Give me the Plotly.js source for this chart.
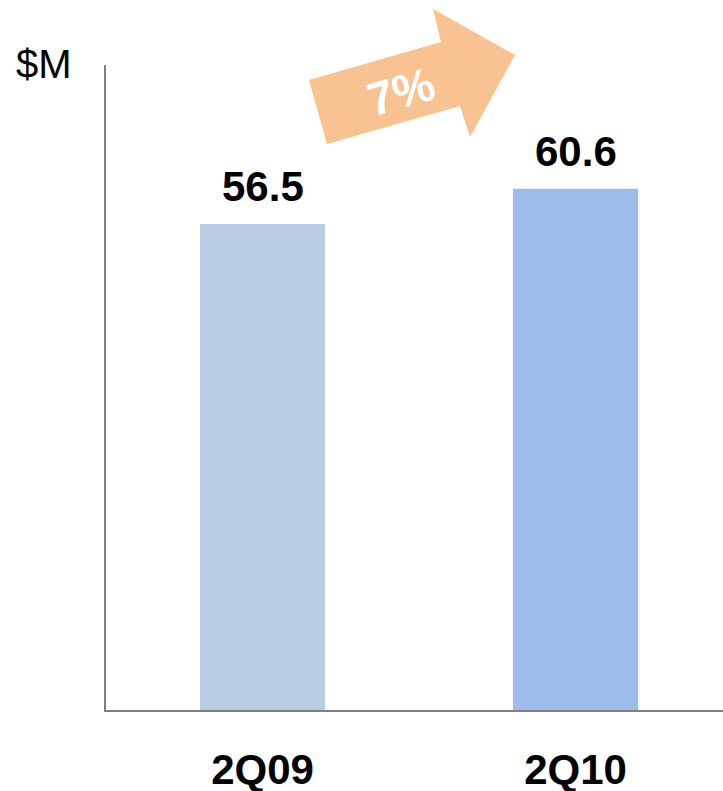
<!DOCTYPE html>
<html>
<head>
<meta charset="utf-8">
<script src="https://cdn.plot.ly/plotly-3.0.1.min.js"></script>
<style>html,body{margin:0;padding:0;background:#fff;}#chart{width:723px;height:791px;}</style>
</head>
<body>
<div id="chart"></div>
<script>
// Data
var categories = ["2Q09", "2Q10"];
var values = [56.5, 60.6];
var valueLabels = ["56.5", "60.6"];
var growthLabel = "7%";
var unitLabel = "$M";

var W = 723, H = 791;
var M = {l: 106, r: 0, t: 65, b: 81};
var PW = W - M.l - M.r, PH = H - M.t - M.b;
function px(x){ return (x - M.l) / PW; }
function py(y){ return (M.t + PH - y) / PH; }

var FONT = "Liberation Sans, Arial, sans-serif";

var arrowPts = [[309,80],[441,42],[433,9],[515,55],[470,137],[460,106],[327,144]];
var path = arrowPts.map(function(p,i){ return (i===0?"M":"L") + px(p[0]).toFixed(4) + "," + py(p[1]).toFixed(4); }).join(" ") + " Z";

var trace = {
  type: "bar",
  x: categories,
  y: values,
  width: 0.4,
  marker: {color: ["#B9CDE5", "#9DBCEA"], line: {width: 0}},
  hoverinfo: "none"
};

var annotations = categories.map(function(c, i){
  return {x: c, y: values[i], xref: "x", yref: "y", text: "<b>" + valueLabels[i] + "</b>",
    showarrow: false, yanchor: "bottom", yshift: 12,
    font: {family: FONT, size: 42, color: "#000"}};
});
annotations.push({xref: "paper", yref: "paper", x: px(401), y: py(92), text: "<b>" + growthLabel + "</b>",
  showarrow: false, textangle: -16, xanchor: "center", yanchor: "middle",
  font: {family: FONT, size: 47, color: "#fff"}});
annotations.push({xref: "paper", yref: "paper", x: px(14), y: py(40), text: unitLabel,
  showarrow: false, xanchor: "left", yanchor: "top",
  font: {family: FONT, size: 40, color: "#000"}});

var layout = {
  width: W, height: H,
  margin: M,
  paper_bgcolor: "#fff", plot_bgcolor: "#fff",
  showlegend: false,
  bargap: 0.6,
  xaxis: {
    type: "category",
    range: [-0.5, 1.471],
    showline: true, linecolor: "#808080", linewidth: 2,
    showgrid: false, zeroline: false,
    ticks: "outside", ticklen: 22, tickcolor: "rgba(0,0,0,0)",
    tickfont: {family: FONT, size: 42, color: "#000", weight: "bold"},
    fixedrange: true
  },
  yaxis: {
    range: [0, 75],
    showline: true, linecolor: "#808080", linewidth: 2,
    showgrid: false, zeroline: false, showticklabels: false, ticks: "",
    fixedrange: true
  },
  shapes: [{type: "path", xref: "paper", yref: "paper", path: path,
    fillcolor: "#F9C291", line: {width: 0}, layer: "above"}],
  annotations: annotations
};

Plotly.newPlot("chart", [trace], layout, {staticPlot: true, displayModeBar: false});
</script>
</body>
</html>
